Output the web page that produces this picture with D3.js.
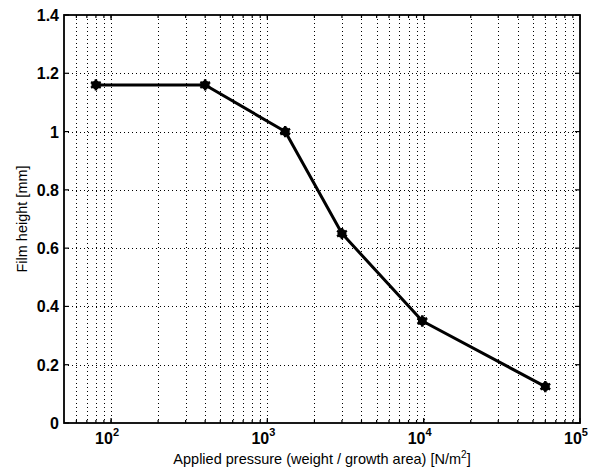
<!DOCTYPE html>
<html>
<head>
<meta charset="utf-8">
<script src="https://cdn.jsdelivr.net/npm/d3@7"></script>
<style>
  body { margin: 0; background: #fff; }
  text { font-family: "Liberation Sans", Arial, sans-serif; fill: #000; }
  .tick-label { font-size: 16px; font-weight: bold; }
  .axis-label { font-size: 14.5px; }
</style>
</head>
<body>
<svg id="chart" width="594" height="472"></svg>
<script>
// data
var pressure = [80, 400, 1300, 3000, 9800, 60000];
var height_mm = [1.16, 1.16, 1.0, 0.65, 0.35, 0.125];
var yTicks = [0, 0.2, 0.4, 0.6, 0.8, 1, 1.2, 1.4];
var yTickLabels = ["0", "0.2", "0.4", "0.6", "0.8", "1", "1.2", "1.4"];
var xDecades = [2, 3, 4, 5];

var margin = { left: 64, right: 14, top: 15, bottom: 49 };
var W = 594, H = 472;
var svg = d3.select("#chart");

var x = d3.scaleLog().domain([50, 1e5]).range([margin.left, W - margin.right]);
var y = d3.scaleLinear().domain([0, 1.4]).range([H - margin.bottom, margin.top]);

var x0 = x.range()[0], x1 = x.range()[1], y0 = y.range()[0], y1 = y.range()[1];

// grid: every 1..9 x 10^k inside the domain
var gridX = [];
for (var k = 1; k <= 5; k++) {
  for (var m = 1; m <= 9; m++) {
    var v = m * Math.pow(10, k);
    if (v > 50 && v < 1e5) gridX.push(v);
  }
}
svg.append("g").selectAll("line").data(gridX).enter().append("line")
  .attr("x1", d => Math.round(x(d)) + 0.5).attr("x2", d => Math.round(x(d)) + 0.5)
  .attr("y1", y1).attr("y2", y0)
  .attr("stroke", "#000").attr("stroke-width", 1).attr("stroke-dasharray", "1,3");
svg.append("g").selectAll("line").data(yTicks.slice(1, -1)).enter().append("line")
  .attr("x1", x0).attr("x2", x1)
  .attr("y1", d => Math.round(y(d)) + 0.5).attr("y2", d => Math.round(y(d)) + 0.5)
  .attr("stroke", "#000").attr("stroke-width", 1).attr("stroke-dasharray", "1,3");

// frame
svg.append("rect").attr("x", x0).attr("y", y1).attr("width", x1 - x0).attr("height", y0 - y1)
  .attr("fill", "none").attr("stroke", "#000").attr("stroke-width", 1.8);

// ticks (inside, on all four sides)
var tl = 5;
var tg = svg.append("g").attr("stroke", "#000").attr("stroke-width", 1.2);
yTicks.forEach(function (d) {
  tg.append("line").attr("x1", x0).attr("x2", x0 + tl).attr("y1", y(d)).attr("y2", y(d));
  tg.append("line").attr("x1", x1).attr("x2", x1 - tl).attr("y1", y(d)).attr("y2", y(d));
});
xDecades.forEach(function (e) {
  var px = x(Math.pow(10, e));
  tg.append("line").attr("x1", px).attr("x2", px).attr("y1", y0).attr("y2", y0 - tl);
  tg.append("line").attr("x1", px).attr("x2", px).attr("y1", y1).attr("y2", y1 + tl);
});
gridX.forEach(function (d) {
  var px = x(d);
  tg.append("line").attr("x1", px).attr("x2", px).attr("y1", y0).attr("y2", y0 - 3);
  tg.append("line").attr("x1", px).attr("x2", px).attr("y1", y1).attr("y2", y1 + 3);
});

// tick labels
svg.append("g").selectAll("text").data(yTicks).enter().append("text")
  .attr("class", "tick-label")
  .attr("x", x0 - 5).attr("y", d => y(d) + 6)
  .attr("text-anchor", "end")
  .text((d, i) => yTickLabels[i]);

var xl = svg.append("g").selectAll("text").data(xDecades).enter().append("text")
  .attr("class", "tick-label")
  .attr("x", d => x(Math.pow(10, d)) - 4).attr("y", y0 + 21)
  .attr("text-anchor", "middle");
xl.append("tspan").text("10");
xl.append("tspan").attr("dy", -8).style("font-size", "11px").text(d => d);

// axis labels
var xlab = svg.append("text").attr("class", "axis-label")
  .attr("x", (x0 + x1) / 2).attr("y", H - 8).attr("text-anchor", "middle");
xlab.append("tspan").text("Applied pressure (weight / growth area) [N/m");
xlab.append("tspan").attr("dy", -6).style("font-size", "10px").text("2");
xlab.append("tspan").attr("dy", 6).text("]");

svg.append("text").attr("class", "axis-label")
  .attr("transform", "translate(27," + ((y0 + y1) / 2) + ") rotate(-90)")
  .attr("text-anchor", "middle")
  .text("Film height [mm]");

// line
var pts = pressure.map((p, i) => [p, height_mm[i]]);
svg.append("path").datum(pts)
  .attr("fill", "none").attr("stroke", "#000").attr("stroke-width", 3)
  .attr("stroke-linejoin", "round")
  .attr("d", d3.line().x(d => x(d[0])).y(d => y(d[1])));

// markers
var mk = svg.append("g").selectAll("g").data(pts).enter().append("g")
  .attr("transform", d => "translate(" + x(d[0]) + "," + y(d[1]) + ")");
mk.append("circle").attr("r", 4.5).attr("fill", "#000");
mk.append("path").attr("d", d3.symbol().type(d3.symbolAsterisk).size(90))
  .attr("fill", "none").attr("stroke", "#000").attr("stroke-width", 2.5);
</script>
</body>
</html>
